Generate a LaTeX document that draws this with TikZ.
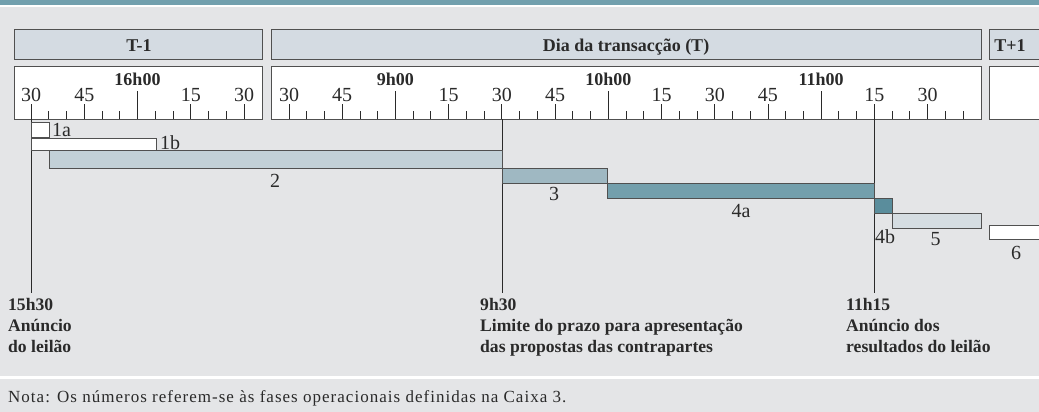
\documentclass[tikz,border=0pt]{standalone}
\usepackage{fontspec}
\setmainfont{Liberation Serif}
\newfontfamily\notefont[LetterSpace=6]{Liberation Serif}
\definecolor{bg}{HTML}{E4E5E7}
\definecolor{topbar}{HTML}{72A0AE}
\definecolor{hdr}{HTML}{D4DBE2}
\definecolor{edge}{HTML}{505050}
\definecolor{c2}{HTML}{C2D0D7}
\definecolor{c3}{HTML}{9FB8C2}
\definecolor{c4a}{HTML}{739FAC}
\definecolor{c4b}{HTML}{5A8D9C}
\definecolor{c5}{HTML}{D5DDE2}
\definecolor{ink}{HTML}{2A2A2A}
\tikzset{
  hdrbox/.style={draw=edge,line width=1pt,fill=hdr},
  scalebox/.style={draw=edge,line width=1pt,fill=white},
  tick/.style={draw=ink,line width=0.9pt},
  minlab/.style={anchor=base,inner sep=0pt,text=ink,font=\fontsize{20}{22}\selectfont},
  hourlab/.style={anchor=base,inner sep=0pt,text=ink,font=\fontsize{18}{20}\selectfont\bfseries},
  hdrlab/.style={anchor=base,inner sep=0pt,text=ink,font=\fontsize{18}{20}\selectfont\bfseries},
  bar/.style={draw=edge,line width=1pt},
  barlab/.style={anchor=base,inner sep=0pt,text=ink,font=\fontsize{20}{22}\selectfont},
  vline/.style={draw=ink,line width=0.9pt},
  evlab/.style={anchor=base west,inner sep=0pt,align=left,text=ink,font=\fontsize{17.6}{21}\selectfont\bfseries},
  notelab/.style={anchor=base west,inner sep=0pt,text=ink,font=\notefont\fontsize{17}{19}\selectfont}
}
\begin{document}
\begin{tikzpicture}[x=1pt,y=-1pt]
\useasboundingbox (0,0) rectangle (1039,412);
\fill[bg] (0,0) rectangle (1039,412);
\fill[topbar] (0,0) rectangle (1039,5);
\fill[white] (0,5) rectangle (1039,7);
\fill[white] (0,376) rectangle (1039,379);
% header boxes
\draw[hdrbox] (14,30) rectangle (262,60);
\draw[hdrbox] (271,30) rectangle (981,60);
\draw[hdrbox] (989,30) rectangle (1046,60);
\node[hdrlab] (hT1) at (139,52) {T-1};
\node[hdrlab] (hT) at (626,52) {Dia da transacção (T)};
\node[hdrlab] (hT2) at (1010,52) {T+1};
% scale boxes
\draw[scalebox] (14,67) rectangle (262,119);
\draw[scalebox] (271,67) rectangle (981,119);
\draw[scalebox] (989,67) rectangle (1046,119);
% T-1 ticks
\foreach \k in {0,...,12} \draw[tick] ({31+17.75*\k},111) -- ({31+17.75*\k},119);
\foreach \k/\lab in {0/30,3/45,9/15,12/30} {
  \draw[tick] ({31+17.75*\k},104) -- ({31+17.75*\k},119);
  \node[minlab] (a\k) at ({31+17.75*\k},101.5) {\lab};
}
\draw[tick] ({31+17.75*6},91) -- ({31+17.75*6},119);
\node[hourlab] (h16) at ({31+17.75*6},85.5) {16h00};
% Day T ticks
\foreach \k in {0,...,38} \draw[tick] ({289+17.74*\k},111) -- ({289+17.74*\k},119);
\foreach \k/\lab in {0/30,3/45,9/15,12/30,15/45,21/15,24/30,27/45,33/15,36/30} {
  \draw[tick] ({289+17.74*\k},104) -- ({289+17.74*\k},119);
  \node[minlab] (b\k) at ({289+17.74*\k},101.5) {\lab};
}
\foreach \k/\lab in {6/9h00,18/10h00,30/11h00} {
  \draw[tick] ({289+17.74*\k},91) -- ({289+17.74*\k},119);
  \node[hourlab] (c\k) at ({289+17.74*\k},85.5) {\lab};
}
% event lines
\coordinate (e1t) at (31,119); \coordinate (e1b) at (31,293);
\coordinate (e2t) at (502,119); \coordinate (e2b) at (502,293);
\coordinate (e3t) at (874,119); \coordinate (e3b) at (874,293);
\draw[vline] (e1t) -- (e1b);
\draw[vline] (e2t) -- (e2b);
\draw[vline] (e3t) -- (e3b);
% bars
\draw[bar,fill=white] (31,122) rectangle (49,137);
\draw[bar,fill=white] (31,138) rectangle (156,150);
\draw[bar,fill=c2] (49,150) rectangle (502,168);
\draw[bar,fill=c3] (502,168) rectangle (607,183);
\draw[bar,fill=c4a] (607,183) rectangle (874,198);
\draw[bar,fill=c4b] (874,198) rectangle (892,213);
\draw[bar,fill=c5] (892,213) rectangle (981,228);
\draw[bar,fill=white] (989,225) rectangle (1046,239);
\node[barlab,anchor=base west] (l1a) at (52,136.5) {1a};
\node[barlab,anchor=base west] (l1b) at (160,149) {1b};
\node[barlab] (l2) at (275,187) {2};
\node[barlab] (l3) at (554,200.5) {3};
\node[barlab] (l4a) at (741,217) {4a};
\node[barlab,anchor=base west] (l4b) at (875,243) {4b};
\node[barlab] (l5) at (935.5,245) {5};
\node[barlab] (l6) at (1016,259.5) {6};
% event labels (base = last line)
\node[evlab] (ev1) at (8,352) {15h30\\Anúncio\\do leilão};
\node[evlab] (ev2) at (480,352) {9h30\\Limite do prazo para apresentação\\das propostas das contrapartes};
\node[evlab] (ev3) at (846,352) {11h15\\Anúncio dos\\resultados do leilão};
% note
\node[notelab] (note) at (8,402.5) {Nota: Os números referem-se às fases operacionais definidas na Caixa 3.};
\end{tikzpicture}
\end{document}
